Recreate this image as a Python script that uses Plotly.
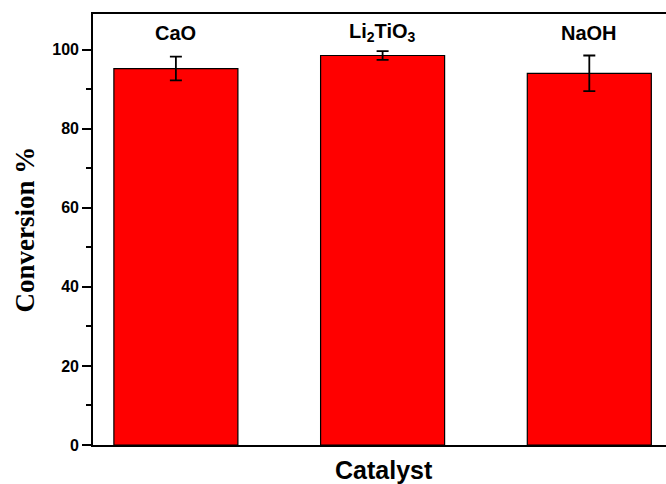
import plotly.graph_objects as go

# Catalyst comparison: conversion (%) with standard deviation
categories = ["CaO", "Li<sub>2</sub>TiO<sub>3</sub>", "NaOH"]
conversion = [95.2, 98.5, 94.0]
conversion_err = [3.0, 1.1, 4.5]
y_ticks = [0, 20, 40, 60, 80, 100]

positions = list(range(len(categories)))

fig = go.Figure()
fig.add_trace(go.Bar(
    x=positions,
    y=conversion,
    width=0.6,
    marker=dict(color="#ff0000", line=dict(color="black", width=1.2)),
    error_y=dict(type="data", array=conversion_err, visible=True,
                 color="black", thickness=1.8, width=6),
    showlegend=False,
))

# Catalyst names above each bar
for pos, name in zip(positions, categories):
    fig.add_annotation(
        x=pos, y=104.2, xref="x", yref="y", text=name, showarrow=False,
        xanchor="center", yanchor="middle",
        font=dict(family="Arial, Liberation Sans", size=20, color="black", weight="bold"),
    )

# Axis titles
fig.add_annotation(
    x=0.508, y=-0.058, xref="paper", yref="paper", text="Catalyst", showarrow=False,
    xanchor="center", yanchor="middle",
    font=dict(family="Arial, Liberation Sans", size=25, color="black", weight="bold"),
)
fig.add_annotation(
    x=-0.1204, y=0.5, xref="paper", yref="paper", text="Conversion %", showarrow=False,
    textangle=-90, xanchor="center", yanchor="middle",
    font=dict(family="Liberation Serif, Times New Roman", size=27, color="black", weight="bold"),
)

fig.update_layout(
    width=666, height=484,
    margin=dict(l=93, r=0, t=14, b=39),
    paper_bgcolor="white", plot_bgcolor="white",
    bargap=0.4,
    xaxis=dict(
        range=[-0.401, 2.371], showticklabels=False, ticks="",
        showline=True, linecolor="black", linewidth=1.6, mirror=True,
        showgrid=False, zeroline=False,
    ),
    yaxis=dict(
        range=[0, 109], tickvals=y_ticks, ticks="outside", ticklen=9,
        tickwidth=1.5, tickcolor="black",
        minor=dict(dtick=10, ticks="outside", ticklen=5, tickwidth=1.5, tickcolor="black"),
        showline=True, linecolor="black", linewidth=1.6, mirror=False,
        showgrid=False, zeroline=False,
        tickfont=dict(family="Arial, Liberation Sans", size=16, color="black", weight="bold"),
    ),
)

fig.write_html("out.html")
